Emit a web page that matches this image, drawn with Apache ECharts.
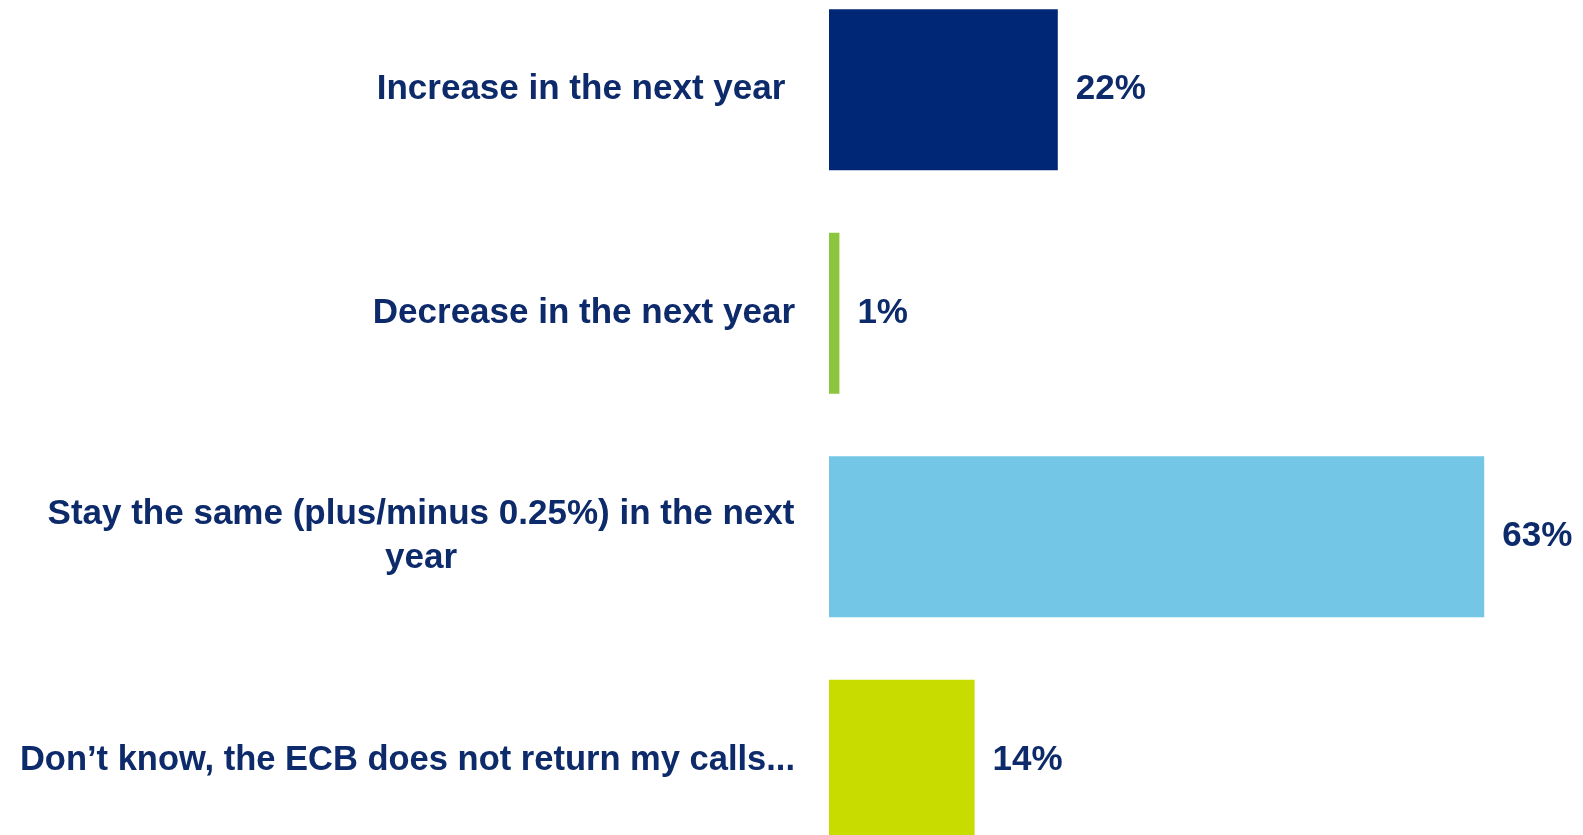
<!DOCTYPE html>
<html>
<head>
<meta charset="utf-8">
<script src="https://cdn.jsdelivr.net/npm/echarts@6/dist/echarts.min.js"></script>
<style>
html,body{margin:0;padding:0;background:#fff;overflow:hidden;width:1583px;height:835px;}
#chart{position:absolute;left:0;top:-22px;width:1583px;height:894px;}
</style>
</head>
<body>
<div id="chart"></div>
<script>
const categories = [
  "Increase in the next year ",
  "Decrease in the next year",
  "Stay the same (plus/minus 0.25%) in the next\nyear",
  "Don\u2019t know, the ECB does not return my calls..."
];
const values = [22, 1, 63, 14];
const colors = ["#002776", "#8cc63f", "#73c6e6", "#c8dc00"];

const textColor = "#0d2a6a";
const fontFamily = "'Liberation Sans', Arial, sans-serif";
const fs = 35;

const chart = echarts.init(document.getElementById('chart'));
chart.setOption({
  backgroundColor: '#ffffff',
  animation: false,
  grid: { left: 829, right: 26, top: 0, bottom: 0, containLabel: false },
  xAxis: {
    type: 'value', min: 0, max: 70,
    show: false
  },
  yAxis: {
    type: 'category',
    inverse: true,
    data: categories.map(function (c, i) {
      return i === 3 ? { value: c, textStyle: { fontSize: 34.5 } } : c;
    }),
    axisLine: { show: false },
    axisTick: { show: false },
    splitLine: { show: false },
    axisLabel: {
      margin: 34,
      align: 'right',
      color: textColor,
      fontFamily: fontFamily,
      fontWeight: 'bold',
      fontSize: fs,
      lineHeight: 44,
      formatter: function (v) {
        if (v.indexOf('\n') < 0) return v;
        return v.split('\n').map(function (l) { return '{c|' + l + '}'; }).join('\n');
      },
      rich: {
        c: {
          width: 748,
          align: 'center',
          color: textColor,
          fontFamily: fontFamily,
          fontWeight: 'bold',
          fontSize: fs,
          lineHeight: 44
        }
      }
    }
  },
  series: [{
    type: 'bar',
    data: values.map(function (v, i) { return { value: v, itemStyle: { color: colors[i] } }; }),
    barCategoryGap: '28%',
    label: {
      show: true,
      position: 'right',
      distance: 18,
      formatter: '{c}%',
      color: textColor,
      fontFamily: fontFamily,
      fontWeight: 'bold',
      fontSize: fs
    }
  }]
});
</script>
</body>
</html>
